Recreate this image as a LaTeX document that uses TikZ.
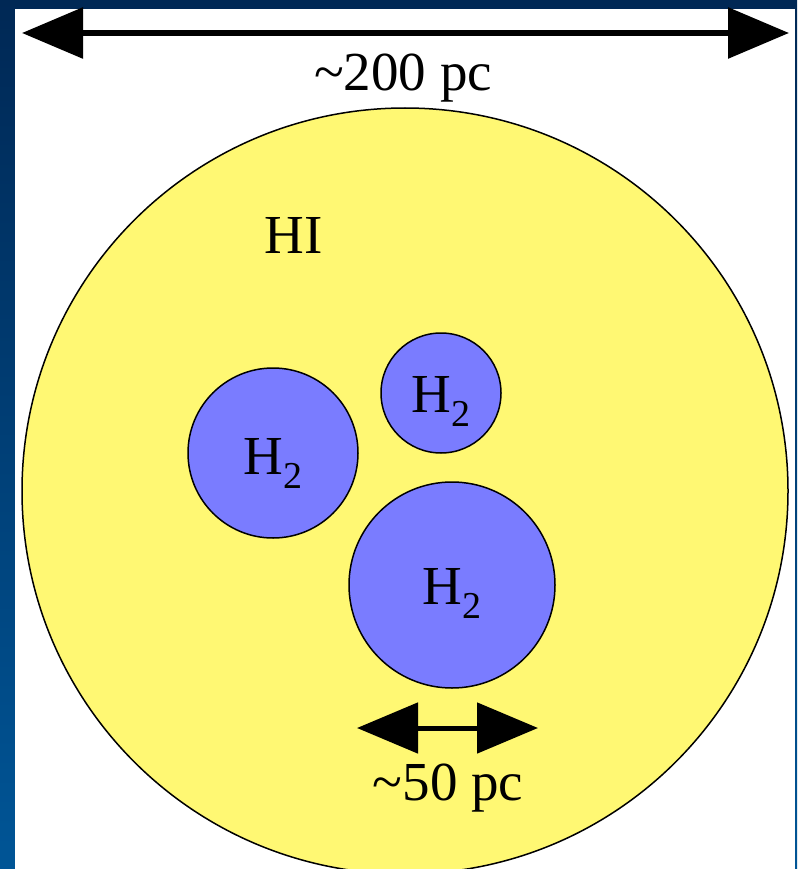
\documentclass[tikz,border=0pt]{standalone}
\usepackage{fontspec}
\setmainfont{Liberation Serif}
\usetikzlibrary{arrows.meta}
\definecolor{hiyellow}{HTML}{FFF873}
\definecolor{htwoblue}{HTML}{7A7CFF}
\definecolor{bgtop}{RGB}{0,40,85}
\definecolor{bgbot}{RGB}{0,85,150}
\tikzset{
  cloud/.style={circle, draw=black, line width=1.5pt, inner sep=0pt},
  himain/.style={cloud, fill=hiyellow},
  htwo/.style={cloud, fill=htwoblue},
  lbl/.style={font=\fontsize{55}{60}\selectfont, inner sep=0pt},
  dimarrow/.style={draw=black, {Triangle[length=61pt,width=50pt]}-{Triangle[length=61pt,width=50pt]}},
}
\newcommand{\Htwo}{H\raisebox{-14pt}{\fontsize{38}{40}\selectfont 2}}
\begin{document}
\begin{tikzpicture}[x=1pt,y=-1pt]
\useasboundingbox (0,0) rectangle (797,869);
\shade[top color=bgtop, bottom color=bgbot] (0,0) rectangle (797,869);
\fill[white] (15,9) rectangle (795,869);
\begin{scope}
\clip (15,9) rectangle (795,869);
\node[himain, minimum size=766pt] (hi) at (405,491) {};
\node[htwo, minimum size=170pt] (c1) at (273,453) {};
\node[htwo, minimum size=120pt] (c2) at (441,393) {};
\node[htwo, minimum size=206pt] (c3) at (452,585) {};
\end{scope}
\node[lbl] (hilbl) at (294,235) {HI};
\node[lbl] at (c1) [yshift=-10pt] (t1) {\Htwo};
\node[lbl] at (c2) [yshift=-8pt] (t2) {\Htwo};
\node[lbl] at (c3) [yshift=-8pt] (t3) {\Htwo};
\coordinate (bigL) at (22,33);
\coordinate (bigR) at (789,33);
\draw[dimarrow, line width=6pt] (bigL) -- (bigR);
\node[lbl] (biglbl) at (403,78) {\char"7E 200 pc};
\coordinate (smL) at (357,728);
\coordinate (smR) at (538,728);
\draw[dimarrow, line width=5pt] (smL) -- (smR);
\node[lbl] (smlbl) at (448,788) {\char"7E 50 pc};
\end{tikzpicture}
\end{document}
